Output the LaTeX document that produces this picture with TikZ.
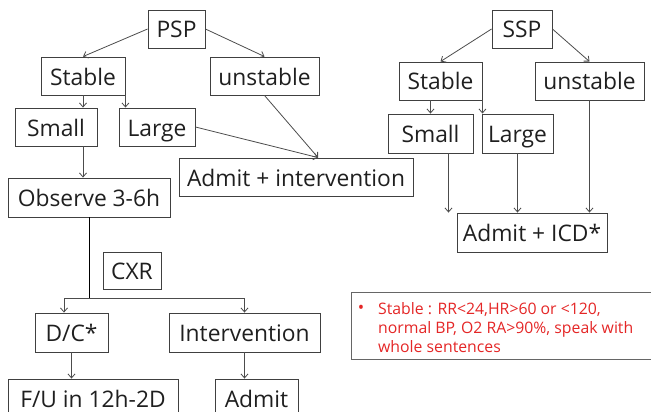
\documentclass[tikz,border=0pt]{standalone}
\usepackage{fontspec}
\setmainfont{Open Sans}
\usetikzlibrary{arrows.meta, positioning}
\definecolor{notered}{RGB}{228,38,38}
\tikzset{
  box/.style={
    draw=black!75,
    rectangle,
    line width=0.9pt,
    inner sep=0pt,
    minimum height=38pt,
    text height=19.5pt,
    text depth=1.5pt,
    align=center,
    text=black!88,
    font=\fontsize{22.8}{26}\selectfont,
  },
  arrow/.style={
    -{Straight Barb[length=4pt,width=7pt]},
    draw=black!70,
    line width=0.8pt
  },
  notebox/.style={
    draw=black!60,
    line width=1pt,
    rectangle,
    inner sep=0pt
  },
  notetext/.style={
    text=notered,
    align=left,
    inner sep=0pt,
    font=\fontsize{15.8}{19}\selectfont
  }
}

\begin{document}
\begin{tikzpicture}[x=1pt,y=-1pt]
\useasboundingbox (0,0) rectangle (651,412);

% PSP tree
\node[box, minimum width=57pt] (psp) at (176.5,29) {PSP};
\node[box, minimum width=84pt] (pstable) at (83,76) {Stable};
\node[box, minimum width=109pt] (punstable) at (264.5,76) {unstable};
\node[box, minimum width=82pt] (psmall) at (56,127) {Small};
\node[box, minimum width=76pt] (plarge) at (157,127) {Large};
\node[box, minimum width=234pt] (padmit) at (296,177) {Admit + intervention};
\coordinate (pin) at ([xshift=22pt]padmit.north);
\draw[arrow] (psp.west) -- (pstable.north);
\draw[arrow] (psp.east) -- (punstable.north);
\draw[arrow] (pstable.south) -- (pstable.south |- psmall.north);
\draw[arrow] (pstable.south east) -- (pstable.south east |- plarge.north);
\draw[arrow] (plarge.east) -- (pin);
\draw[arrow] (punstable.south) -- (pin);

% Observe branch
\node[box, minimum width=162pt, minimum height=39pt] (observe) at (89,197.5) {Observe 3-6h};
\node[box, minimum width=58pt, minimum height=37pt] (cxr) at (132,270.5) {CXR};
\node[box, minimum width=73pt, minimum height=39pt] (dc) at (71.5,332.5) {D/C*};
\node[box, minimum width=151pt, minimum height=39pt] (interv) at (244.5,332.5) {Intervention};
\node[box, minimum width=170pt] (fu) at (93,398) {F/U in 12h-2D};
\node[box, minimum width=83pt] (admit) at (256.5,398) {Admit};
\coordinate (split) at (observe.south |- 0,298);
\draw[arrow] (pstable.south |- psmall.south) -- (pstable.south |- observe.north);
\draw (observe.south) -- (split);
\draw[arrow] (split) -| ([xshift=-7.5pt]dc.north);
\draw[arrow] (split) -| (interv.north);
\draw[arrow] (dc.south) -- (dc.south |- fu.north);
\draw[arrow] (interv.south) -- (interv.south |- admit.north);

% SSP tree
\node[box, minimum width=60pt] (ssp) at (522,29) {SSP};
\node[box, minimum width=83pt] (rstable) at (440.5,81) {Stable};
\node[box, minimum width=109pt] (runstable) at (589.5,81) {unstable};
\node[box, minimum width=85pt, minimum height=39pt] (rsmall) at (430.5,133.5) {Small};
\node[box, minimum width=71pt, minimum height=39pt] (rlarge) at (517.5,133.5) {Large};
\node[box, minimum width=150pt, minimum height=39pt] (ricd) at (532,232.5) {Admit + ICD*};
\draw[arrow] (ssp.west) -- (rstable.north);
\draw[arrow] (ssp.east) -- (runstable.north);
\draw[arrow] (rsmall.north |- rstable.south) -- (rsmall.north);
\draw[arrow] (rstable.south east) -- (rstable.south east |- rlarge.north);
\draw[arrow] ([xshift=18pt]rsmall.south) -- ([xshift=18pt]rsmall.south |- ricd.north);
\draw[arrow] (rlarge.south) -- (rlarge.south |- ricd.north);
\draw[arrow] (runstable.south) -- (runstable.south |- ricd.north);

% note on stable
\node[notebox, anchor=north west, minimum width=306pt, minimum height=67pt] (note) at (351,292) {};
\node[notetext, anchor=north west] (notetxt) at (378,302) {Stable : RR<24,HR>60 or <120,\\normal BP, O2 RA>90\%, speak with\\whole sentences};
\node[notetext, font=\fontsize{17}{17}\selectfont] (bullet) at (361,309) {•};

\end{tikzpicture}
\end{document}
